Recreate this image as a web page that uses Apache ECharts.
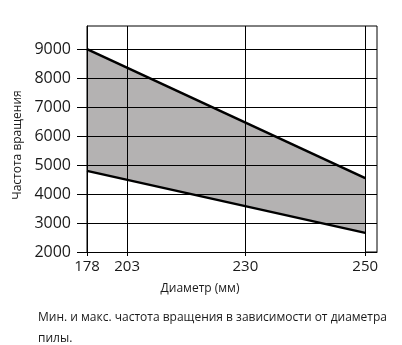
<!DOCTYPE html>
<html>
<head>
<meta charset="utf-8">
<script src="https://cdn.jsdelivr.net/npm/echarts@6/dist/echarts.min.js"></script>
<style>
html,body{margin:0;padding:0;background:#fff;}
#chart{width:402px;height:345px;}
</style>
</head>
<body>
<div id="chart"></div>
<script>
// Tick labels on the diameter axis (mm)
const diameterTicks = [178, 203, 230, 250];
// Speed axis tick labels
const speedTicks = [2000, 3000, 4000, 5000, 6000, 7000, 8000, 9000];
// Series: diameters at which the bounds are given, and min/max speed
const boundDiameters = [178, 250];
const maxSpeed = [9000, 4550];
const minSpeed = [4800, 2660];

// Axis layout: the original diameter axis is not linear, so each tick sits at
// its own position along the axis (axis units, 0..axisEnd)
const axisPositions = [0, 40.2, 158.8, 279];
const axisEnd = 290.8;

function posOf(d) {
  return axisPositions[diameterTicks.indexOf(d)];
}
function labelOf(p) {
  for (let i = 0; i < axisPositions.length; i++) {
    if (Math.abs(axisPositions[i] - p) < 0.01) return String(diameterTicks[i]);
  }
  return '';
}

const FONT = 'Open Sans';
const chart = echarts.init(document.getElementById('chart'), null, {renderer: 'canvas'});
chart.setOption({
  animation: false,
  backgroundColor: '#fff',
  title: {
    text: 'Мин. и макс. частота вращения в зависимости от диаметра\nпилы.',
    left: 33, top: 302,
    textStyle: {fontFamily: FONT, fontSize: 12, fontWeight: 'normal', color: '#1a1a1a', lineHeight: 21}
  },
  grid: {
    left: 87, right: 25, top: 26, bottom: 93,
    show: true, borderColor: '#000', borderWidth: 1, backgroundColor: 'transparent'
  },
  xAxis: {
    type: 'value', min: 0, max: axisEnd, z: 10,
    name: 'Диаметр (мм)', nameLocation: 'middle', nameGap: 31,
    nameTextStyle: {fontFamily: FONT, fontSize: 12, color: '#1a1a1a', padding: [0, 64, 0, 0]},
    axisLine: {show: true, onZero: false, lineStyle: {color: '#000', width: 1}},
    axisTick: {show: true, length: 4, customValues: axisPositions, lineStyle: {color: '#000', width: 1}},
    axisLabel: {customValues: axisPositions, formatter: labelOf, margin: 7,
      fontFamily: FONT, fontSize: 15, color: '#1a1a1a'},
    splitLine: {show: true, lineStyle: {color: '#000', width: 1}}
  },
  yAxis: {
    type: 'value', min: 2000, max: 9800, interval: 1000, z: 10,
    name: 'Частота вращения', nameLocation: 'middle', nameGap: 62,
    nameTextStyle: {fontFamily: FONT, fontSize: 12, color: '#1a1a1a', padding: [0, 12, 0, 0]},
    axisLine: {show: true, lineStyle: {color: '#000', width: 1}},
    axisTick: {show: true, length: 10, customValues: speedTicks, lineStyle: {color: '#000', width: 1}},
    axisLabel: {customValues: speedTicks, formatter: v => String(v), margin: 16,
      fontFamily: FONT, fontSize: 16, color: '#1a1a1a'},
    splitLine: {show: true, lineStyle: {color: '#000', width: 1}}
  },
  series: [
    {
      type: 'line', name: 'max',
      data: boundDiameters.map((d, i) => [posOf(d), maxSpeed[i]]),
      symbol: 'none', z: 2,
      lineStyle: {color: '#000', width: 2.5},
      areaStyle: {color: '#b4b2b2', opacity: 1, origin: 'start'}
    },
    {
      type: 'line', name: 'min',
      data: boundDiameters.map((d, i) => [posOf(d), minSpeed[i]]),
      symbol: 'none', z: 3,
      lineStyle: {color: '#000', width: 2.5},
      areaStyle: {color: '#ffffff', opacity: 1, origin: 'start'}
    }
  ]
});
</script>
</body>
</html>
